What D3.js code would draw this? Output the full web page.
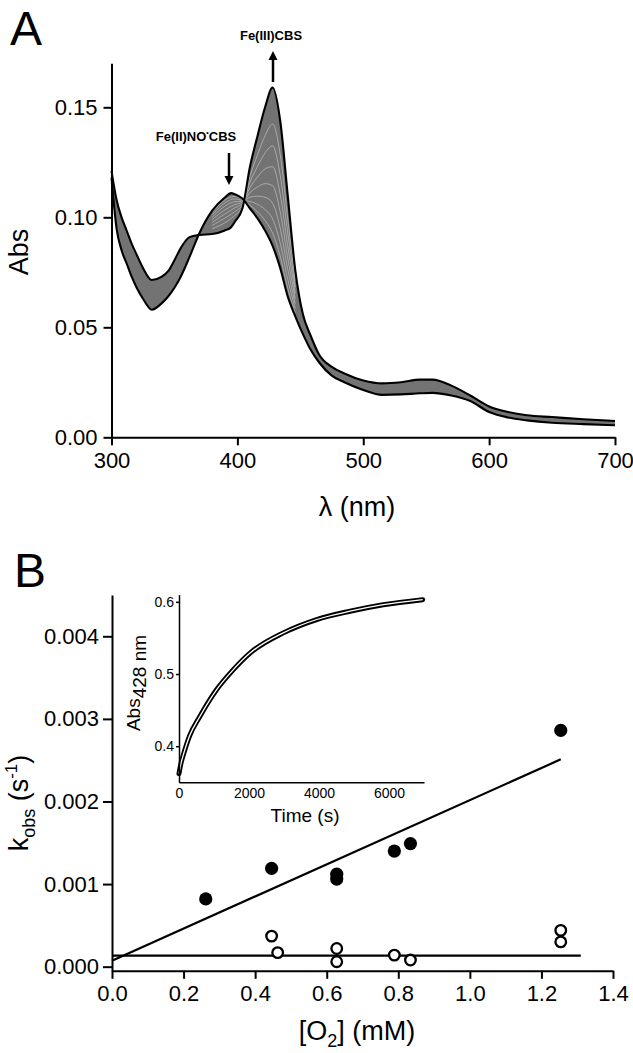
<!DOCTYPE html>
<html><head><meta charset="utf-8">
<script src="https://cdn.jsdelivr.net/npm/d3@7"></script>
<style>
body{margin:0;background:#fff;}
svg{display:block;font-family:Arial,"Liberation Sans",Helvetica,sans-serif;}
</style></head><body>
<svg id="chart" width="633" height="1053"></svg>
<script>
// ---------- Panel A data: UV-vis spectra ----------
const wavelengths = [300,304,308,312,316,320,325,332,340,345,350,355,362,370,380,390,395,398,404,410,416,422,428,434,440,446,452,458,465,475,485,500,515,530,545,555,570,585,600,615,630,650,675,700];
const absFeIINO = [0.118,0.095,0.085,0.079,0.073,0.068,0.063,0.058,0.061,0.064,0.068,0.073,0.082,0.093,0.103,0.109,0.111,0.1105,0.1085,0.104,0.0995,0.094,0.087,0.077,0.064,0.055,0.047,0.040,0.034,0.028,0.025,0.0215,0.0193,0.0195,0.020,0.0202,0.019,0.0165,0.0115,0.009,0.0077,0.0066,0.006,0.0055];
const absFeIII = [0.121,0.108,0.100,0.094,0.088,0.083,0.077,0.0715,0.073,0.0755,0.0805,0.086,0.091,0.092,0.0924,0.094,0.0955,0.098,0.104,0.123,0.137,0.150,0.159,0.144,0.110,0.076,0.056,0.0465,0.0375,0.032,0.029,0.0258,0.0245,0.025,0.0262,0.0262,0.0235,0.019,0.014,0.0115,0.0100,0.0092,0.0082,0.0074];
const traceWavelengths = [380,390,398,404,410,416,422,428,434,440,446];
const intermediateTraces = [
  [0.1022,0.1078,0.1095,0.1081,0.1055,0.1025,0.0985,0.0928,0.0824,0.0677,0.0567],
  [0.1012,0.1065,0.1084,0.1077,0.1072,0.1059,0.1035,0.0992,0.0884,0.0718,0.0586],
  [0.1001,0.1050,0.1071,0.1073,0.1091,0.1096,0.1091,0.1064,0.0951,0.0764,0.0607],
  [0.0990,0.1033,0.1058,0.1068,0.1112,0.1138,0.1153,0.1144,0.1025,0.0815,0.0630],
  [0.0977,0.1015,0.1043,0.1063,0.1135,0.1183,0.1220,0.1230,0.1105,0.0870,0.0655],
  [0.0963,0.0996,0.1026,0.1057,0.1160,0.1231,0.1293,0.1324,0.1192,0.0930,0.0682],
  [0.0948,0.0975,0.1009,0.1050,0.1186,0.1284,0.1371,0.1424,0.1286,0.0994,0.0712]
];
const xTicksA = [300,400,500,600,700];
const yTicksA = [0.00,0.05,0.10,0.15];

// ---------- Panel B data: kobs vs [O2] ----------
const o2Filled = [0.262,0.446,0.628,0.628,0.789,0.834,1.254];
const kobsFilled = [0.00082,0.00119,0.00112,0.00106,0.00140,0.00149,0.00286];
const o2Open = [0.446,0.463,0.628,0.628,0.789,0.834,1.254,1.254];
const kobsOpen = [0.00037,0.00017,0.00022,0.00006,0.00014,0.00008,0.00044,0.00030];
const fitSlopeX = [0,1.254], fitSlopeY = [0.000073,0.00251];
const fitFlatX = [0,1.31], fitFlatY = [0.000133,0.000133];
const xTicksB = [0,0.2,0.4,0.6,0.8,1.0,1.2,1.4];
const yTicksB = [0.000,0.001,0.002,0.003,0.004];

// ---------- Inset data: Abs428 vs time ----------
const insetTime = [0,60,124,300,600,1077,1552,2029,2980,3934,4886,5837,6963];
const insetAbs = [0.362,0.377,0.388,0.414,0.4415,0.4785,0.506,0.529,0.557,0.5755,0.587,0.596,0.603];
const xTicksI = [0,2000,4000,6000];
const yTicksI = [0.4,0.5,0.6];

const svg = d3.select("#chart");
svg.append("rect").attr("width",633).attr("height",1053).attr("fill","#fff");

function styleAxis(g, fs, sw){
  g.attr("font-size",fs).attr("font-family",null);
  g.selectAll("path,line").attr("stroke","#000").attr("stroke-width",sw);
  g.selectAll("text").attr("fill","#000");
}

// ================= Panel A =================
const xA = d3.scaleLinear().domain([300,700]).range([111.5,615]);
const yA = d3.scaleLinear().domain([0,0.17]).range([437.3,63.3]);
const spec = wavelengths.map((w,i)=>({w, a:absFeIINO[i], b:absFeIII[i]}));

svg.append("path").datum(spec)
  .attr("d", d3.area().x(d=>xA(d.w)).y0(d=>yA(d.a)).y1(d=>yA(d.b)).curve(d3.curveMonotoneX))
  .attr("fill","#737373");

intermediateTraces.forEach(tr=>{
  svg.append("path").datum(tr.map((v,i)=>[traceWavelengths[i],v]))
    .attr("d", d3.line().x(d=>xA(d[0])).y(d=>yA(d[1])).curve(d3.curveMonotoneX))
    .attr("fill","none").attr("stroke","#fff").attr("stroke-width",0.7).attr("stroke-opacity",0.55);
});

[absFeIINO, absFeIII].forEach(arr=>{
  svg.append("path").datum(arr.map((v,i)=>[wavelengths[i],v]))
    .attr("d", d3.line().x(d=>xA(d[0])).y(d=>yA(d[1])).curve(d3.curveMonotoneX))
    .attr("fill","none").attr("stroke","#000").attr("stroke-width",2.1).attr("stroke-linejoin","round");
});

svg.append("g").attr("transform","translate(111.5,0)")
  .call(d3.axisLeft(yA).tickValues(yTicksA).tickFormat(d3.format(".2f")).tickSize(8).tickPadding(6).tickSizeOuter(0))
  .call(g=>styleAxis(g,22,2));
svg.append("g").attr("transform","translate(0,437.3)")
  .call(d3.axisBottom(xA).tickValues(xTicksA).tickFormat(d3.format("d")).tickSize(8).tickPadding(7).tickSizeOuter(0))
  .call(g=>styleAxis(g,22,2));

svg.append("text").attr("x",10).attr("y",45).attr("font-size",48).text("A");
svg.append("text").attr("transform","translate(28,252) rotate(-90)").attr("text-anchor","middle").attr("font-size",27).text("Abs");
svg.append("text").attr("x",357).attr("y",516).attr("text-anchor","middle").attr("font-size",27).text("λ (nm)");

// annotations
svg.append("text").attr("x",271).attr("y",40).attr("text-anchor","middle").attr("font-size",13).attr("font-weight","bold").text("Fe(III)CBS");
svg.append("line").attr("x1",273).attr("x2",273).attr("y1",82).attr("y2",58).attr("stroke","#000").attr("stroke-width",2.5);
svg.append("path").attr("d","M273,51 L268.5,60 L277.5,60 Z").attr("fill","#000");
const t2 = svg.append("text").attr("x",196).attr("y",141).attr("text-anchor","middle").attr("font-size",13).attr("font-weight","bold");
t2.append("tspan").text("Fe(II)NO");
t2.append("tspan").attr("font-size",7).attr("dy",-6).text("•");
t2.append("tspan").attr("dy",6).text("CBS");
svg.append("line").attr("x1",229).attr("x2",229).attr("y1",153).attr("y2",178).attr("stroke","#000").attr("stroke-width",2.5);
svg.append("path").attr("d","M229,185 L224.5,176 L233.5,176 Z").attr("fill","#000");

// ================= Panel B =================
const xB = d3.scaleLinear().domain([0,1.4]).range([112,613]);
const yB = d3.scaleLinear().domain([-0.00005,0.0045]).range([970.8,595]);

svg.append("g").attr("transform","translate(112,0)")
  .call(d3.axisLeft(yB).tickValues(yTicksB).tickFormat(d3.format(".3f")).tickSize(9).tickPadding(4).tickSizeOuter(0))
  .call(g=>styleAxis(g,22,2));
svg.append("g").attr("transform","translate(0,970.8)")
  .call(d3.axisBottom(xB).tickValues(xTicksB).tickFormat(d3.format(".1f")).tickSize(8).tickPadding(7).tickSizeOuter(0))
  .call(g=>styleAxis(g,22,2));

const lineB = d3.line().x(d=>xB(d[0])).y(d=>yB(d[1]));
svg.append("path").datum(fitSlopeX.map((x,i)=>[x,fitSlopeY[i]])).attr("d",lineB).attr("fill","none").attr("stroke","#000").attr("stroke-width",2.2);
svg.append("path").datum(fitFlatX.map((x,i)=>[x,fitFlatY[i]])).attr("d",lineB).attr("fill","none").attr("stroke","#000").attr("stroke-width",2.2);

svg.append("g").selectAll("circle").data(o2Filled.map((x,i)=>[x,kobsFilled[i]])).join("circle")
  .attr("cx",d=>xB(d[0])).attr("cy",d=>yB(d[1])).attr("r",6.6).attr("fill","#000");
svg.append("g").selectAll("circle").data(o2Open.map((x,i)=>[x,kobsOpen[i]])).join("circle")
  .attr("cx",d=>xB(d[0])).attr("cy",d=>yB(d[1])).attr("r",5.3).attr("fill","#fff").attr("stroke","#000").attr("stroke-width",2.3);

svg.append("text").attr("x",14).attr("y",587).attr("font-size",48).text("B");
const ky = svg.append("text").attr("transform","translate(28,803) rotate(-90)").attr("text-anchor","middle").attr("font-size",27);
ky.append("tspan").text("k");
ky.append("tspan").attr("font-size",18).attr("dy",7).text("obs");
ky.append("tspan").attr("dy",-7).text(" (s");
ky.append("tspan").attr("font-size",17).attr("dy",-11).text("-1");
ky.append("tspan").attr("dy",11).text(")");
const ox = svg.append("text").attr("x",357).attr("y",1040).attr("text-anchor","middle").attr("font-size",27);
ox.append("tspan").text("[O");
ox.append("tspan").attr("font-size",18).attr("dy",7).text("2");
ox.append("tspan").attr("dy",-7).text("] (mM)");

// ================= Inset =================
const xI = d3.scaleLinear().domain([0,7000]).range([179,424]);
const yI = d3.scaleLinear().domain([0.35,0.61]).range([782.3,594.6]);
const lineI = d3.line().x(d=>xI(d[0])).y(d=>yI(d[1])).curve(d3.curveMonotoneX);
const insetPts = insetTime.map((t,i)=>[t,insetAbs[i]]);
svg.append("path").datum(insetPts).attr("d",lineI).attr("fill","none").attr("stroke","#000").attr("stroke-width",5).attr("stroke-linecap","round");
svg.append("path").datum(insetPts).attr("d",lineI).attr("fill","none").attr("stroke","#fff").attr("stroke-width",1.3);

svg.append("g").attr("transform","translate(179,0)")
  .call(d3.axisLeft(yI).tickValues(yTicksI).tickFormat(d3.format(".1f")).tickSize(3).tickPadding(2).tickSizeOuter(0))
  .call(g=>styleAxis(g,14,1.5));
svg.append("g").attr("transform","translate(0,782.3)")
  .call(d3.axisBottom(xI).tickValues(xTicksI).tickFormat(d3.format("d")).tickSize(0).tickPadding(6).tickSizeOuter(0))
  .call(g=>styleAxis(g,14,1.5));

const iy = svg.append("text").attr("transform","translate(140,683) rotate(-90)").attr("text-anchor","middle").attr("font-size",19);
iy.append("tspan").text("Abs");
iy.append("tspan").attr("dy",6).text("428 nm");
svg.append("text").attr("x",305).attr("y",822).attr("text-anchor","middle").attr("font-size",19).text("Time (s)");
</script>
</body></html>
